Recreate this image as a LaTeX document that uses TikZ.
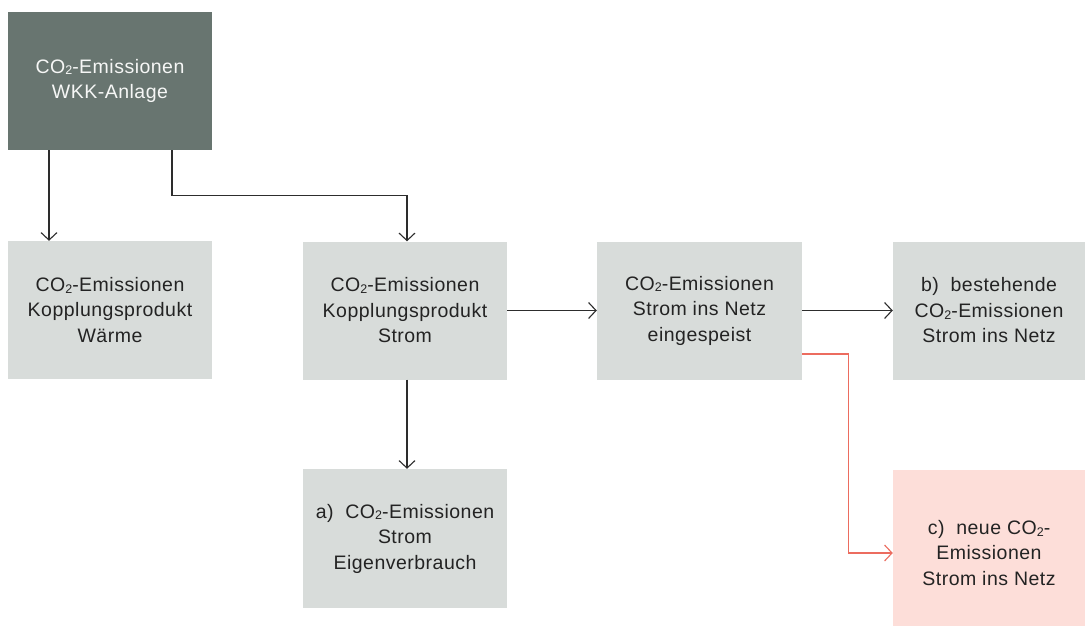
\documentclass[tikz,border=0pt]{standalone}
\usepackage{fontspec}
\setmainfont{Liberation Sans}[LetterSpace=2.5]
\usetikzlibrary{arrows.meta}
\definecolor{darkbox}{RGB}{104,117,112}
\definecolor{graybox}{RGB}{216,220,218}
\definecolor{pinkbox}{RGB}{253,222,217}
\definecolor{redline}{RGB}{236,108,95}
\definecolor{txt}{RGB}{35,35,35}
\definecolor{linec}{RGB}{45,45,45}
\newcommand{\cotwo}{CO\raisebox{-0.15ex}{\fontsize{12.5}{12.5}\selectfont 2}}
\tikzset{
  box/.style={draw=none, fill=graybox, text=txt, align=center, inner sep=0pt,
    font=\fontsize{19.5}{25.5}\selectfont, minimum width=204pt, minimum height=138pt},
  arr/.style={draw=linec, line width=1.1pt, -{Straight Barb[length=7.5pt,width=16pt,line width=1.1pt]}},
  redarr/.style={draw=redline, line width=1.1pt, -{Straight Barb[length=7.5pt,width=16pt,line width=1.1pt]}}
}
\begin{document}
\begin{tikzpicture}[x=1pt,y=-1pt]
\clip (0,0) rectangle (1085,625);
\fill[white] (0,0) rectangle (1085,625);
\node[box, fill=darkbox, text=white!94!darkbox] (top) at (110,81) {\cotwo-Emissionen\\WKK-Anlage};
\node[box] (b1) at (110,310) {\cotwo-Emissionen\\Kopplungsprodukt\\Wärme};
\node[box] (b2) at (405,310.5) {\cotwo-Emissionen\\Kopplungsprodukt\\Strom};
\node[box, minimum width=205pt] (b3) at (699.5,310.5) {\cotwo-Emissionen\\Strom ins Netz\\eingespeist};
\node[box, minimum width=192pt] (b4) at (989,310.5) {b)\ \ bestehende\\\cotwo-Emissionen\\Strom ins Netz};
\node[box, minimum height=139pt] (ba) at (405,538.5) {a)\ \ \cotwo-Emissionen\\Strom\\Eigenverbrauch};
\node[box, fill=pinkbox, minimum width=192pt, minimum height=166pt] (bc) at (989,553) {c)\ \ neue \cotwo-\\Emissionen\\Strom ins Netz};
\draw[arr] ([xshift=-61pt]top.south) -- ([xshift=-61pt]b1.north);
\draw[arr] ([xshift=62pt]top.south) -- ++(0,45) -| ([xshift=2pt]b2.north);
\draw[arr] (b2.east) -- (b3.west);
\draw[arr] (b3.east) -- (b4.west);
\draw[arr] ([xshift=2pt]b2.south) -- ([xshift=2pt]ba.north);
\draw[redarr] ([yshift=-43.5pt]b3.east) -- ++(46,0) |- (bc.west);
\end{tikzpicture}
\end{document}
